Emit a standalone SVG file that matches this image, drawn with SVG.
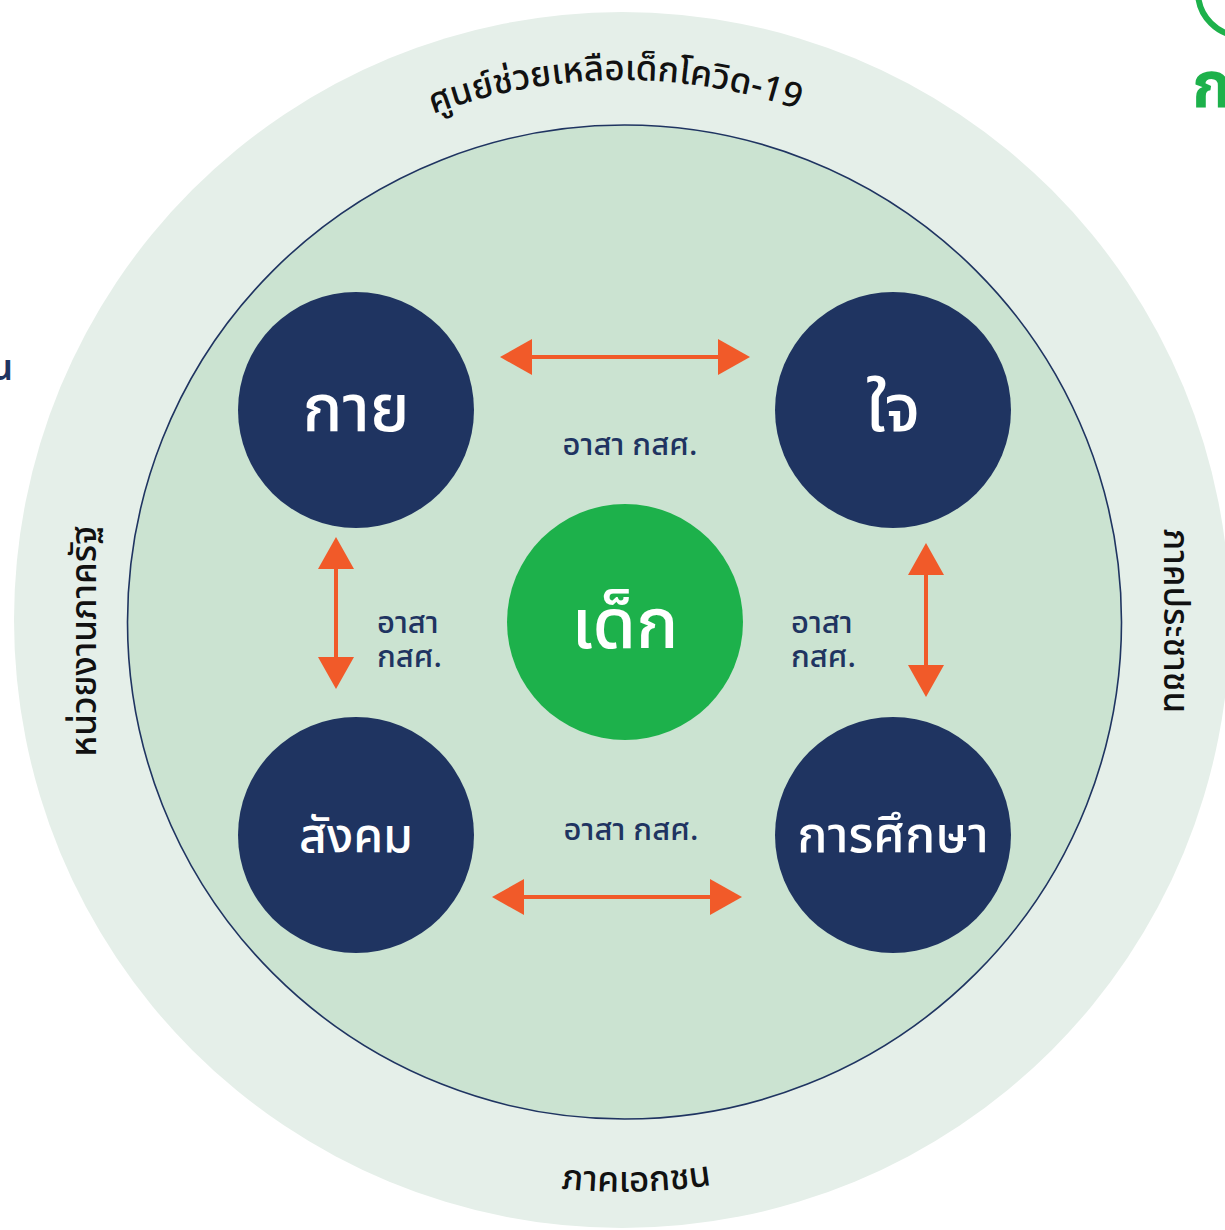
<svg xmlns="http://www.w3.org/2000/svg" width="1225" height="1230" viewBox="0 0 1225 1230">
<style>
text{font-family:"Noto Sans","Noto Sans Thai","Liberation Sans",sans-serif;}
.ring{font-size:35px;fill:#111;font-weight:500;}
.node{fill:#1f3461;}
.nlabel{fill:#fff;text-anchor:middle;font-weight:500;}
.lbl{font-size:31px;fill:#1f3461;font-weight:500;}
.arr{stroke:#f15a29;stroke-width:4;fill:none;}
.head{fill:#f15a29;}
</style>
<defs>
<path id="topArc" d="M 82 620 A 540 540 0 0 1 1162 620"/>
<path id="botArc" d="M 52 620 A 572 572 0 0 0 1196 620"/>
</defs>
<rect width="1225" height="1230" fill="#ffffff"/>
<g id="logo">
<circle cx="1242" cy="-8" r="44" fill="none" stroke="#1db14b" stroke-width="6"/>
<text x="1192" y="107" font-size="64" font-weight="bold" fill="#1db14b">ก</text>
</g>
<text x="13" y="380" font-size="36" fill="#1f3461" font-weight="600" text-anchor="end">น</text>
<g id="outer">
<circle cx="622" cy="620" r="608" fill="#e5efe9"/>
<text class="ring"><textPath href="#topArc" startOffset="49.6%" text-anchor="middle">ศูนย์ช่วยเหลือเด็กโควิด-19</textPath></text>
<text class="ring" font-size="33"><textPath href="#botArc" startOffset="50.7%" text-anchor="middle">ภาคเอกชน</textPath></text>
<text class="ring" font-size="39" transform="translate(96 641) rotate(-90)" text-anchor="middle">หน่วยงานภาครัฐ</text>
<text class="ring" font-size="39" transform="translate(1164 621) rotate(90)" text-anchor="middle">ภาคประชาชน</text>
</g>
<g id="inner">
<circle cx="624.5" cy="622" r="497" fill="#cbe3d1" stroke="#1f3461" stroke-width="1.6"/>
</g>
<g id="connectors">
<line class="arr" x1="528" y1="357" x2="722" y2="357"/>
<polygon class="head" points="500,357 532,339 532,375"/>
<polygon class="head" points="750,357 718,339 718,375"/>
<line class="arr" x1="520" y1="897" x2="714" y2="897"/>
<polygon class="head" points="492,897 524,879 524,915"/>
<polygon class="head" points="742,897 710,879 710,915"/>
<line class="arr" x1="336" y1="564" x2="336" y2="661"/>
<polygon class="head" points="336,537 318,569 354,569"/>
<polygon class="head" points="336,689 318,657 354,657"/>
<line class="arr" x1="926" y1="571" x2="926" y2="669"/>
<polygon class="head" points="926,543 908,575 944,575"/>
<polygon class="head" points="926,697 908,665 944,665"/>
</g>
<g id="labels">
<text class="lbl" x="630" y="455" text-anchor="middle">อาสา กสศ.</text>
<text class="lbl" x="631" y="840" text-anchor="middle">อาสา กสศ.</text>
<text class="lbl"><tspan x="377" y="633">อาสา</tspan><tspan x="377" y="667">กสศ.</tspan></text>
<text class="lbl"><tspan x="791" y="633">อาสา</tspan><tspan x="791" y="667">กสศ.</tspan></text>
</g>
<g id="node-kai">
<circle class="node" cx="356" cy="410" r="118"/>
<text class="nlabel" x="356" y="431" font-size="66">กาย</text>
</g>
<g id="node-jai">
<circle class="node" cx="893" cy="410" r="118"/>
<text class="nlabel" x="893" y="431" font-size="66">ใจ</text>
</g>
<g id="node-sangkhom">
<circle class="node" cx="356" cy="835" r="118"/>
<text class="nlabel" x="356" y="852" font-size="48">สังคม</text>
</g>
<g id="node-suksa">
<circle class="node" cx="893" cy="835" r="118"/>
<text class="nlabel" x="893" y="852" font-size="50">การศึกษา</text>
</g>
<g id="node-dek">
<circle cx="625" cy="622" r="118" fill="#1db14b"/>
<text class="nlabel" x="625" y="648" font-size="70">เด็ก</text>
</g>
</svg>
